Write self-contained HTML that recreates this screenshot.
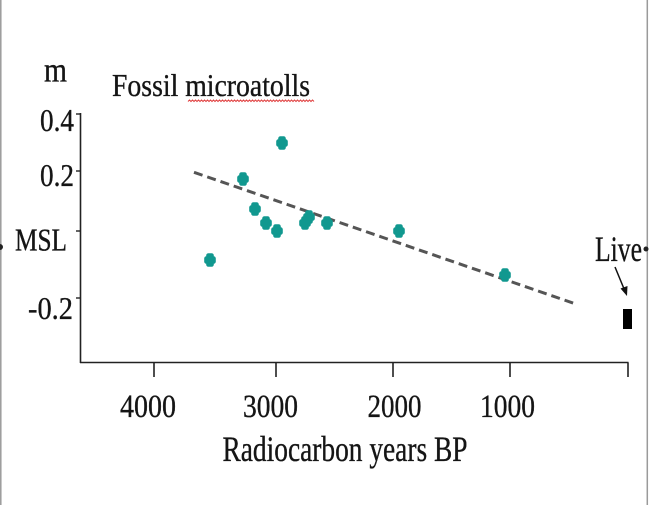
<!DOCTYPE html>
<html>
<head>
<meta charset="utf-8">
<style>
  html,body{margin:0;padding:0;background:#fff;}
  svg{display:block;}
  text{font-family:"Liberation Serif","Times New Roman",serif;fill:#151515;stroke:#151515;stroke-width:0.35;}
</style>
</head>
<body>
<svg width="650" height="505" viewBox="0 0 650 505" xmlns="http://www.w3.org/2000/svg">
  <rect x="0" y="0" width="650" height="505" fill="#fff"/>
  <!-- borders -->
  <line x1="0.8" y1="0" x2="0.8" y2="505" stroke="#9a9a9a" stroke-width="1.5"/>
  <line x1="647.3" y1="0" x2="647.3" y2="505" stroke="#9a9a9a" stroke-width="1.5"/>

  <!-- partial glyphs at edges -->
  <circle cx="0" cy="247" r="3" fill="#222"/>
  <circle cx="646" cy="249" r="2.5" fill="#222"/>

  <!-- axes -->
  <line x1="80.5" y1="113" x2="80.5" y2="363" stroke="#222" stroke-width="1.6"/>
  <line x1="80" y1="362.5" x2="628.5" y2="362.5" stroke="#222" stroke-width="1.6"/>
  <!-- y ticks -->
  <g stroke="#222" stroke-width="1.4">
    <line x1="76" y1="114" x2="80.5" y2="114"/>
    <line x1="76" y1="171" x2="80.5" y2="171"/>
    <line x1="76" y1="231" x2="80.5" y2="231"/>
    <line x1="76" y1="298" x2="80.5" y2="298"/>
  </g>
  <!-- x ticks -->
  <g stroke="#222" stroke-width="1.6">
    <line x1="154" y1="362.5" x2="154" y2="377"/>
    <line x1="276" y1="362.5" x2="276" y2="377"/>
    <line x1="393" y1="362.5" x2="393" y2="377"/>
    <line x1="510" y1="362.5" x2="510" y2="377"/>
    <line x1="628" y1="362.5" x2="628" y2="377"/>
  </g>

  <!-- y labels -->
  <text x="40" y="131" font-size="31.5" textLength="34" lengthAdjust="spacingAndGlyphs">0.4</text>
  <text x="40" y="186" font-size="31.5" textLength="34" lengthAdjust="spacingAndGlyphs">0.2</text>
  <text x="15" y="250.5" font-size="31.5" textLength="52" lengthAdjust="spacingAndGlyphs">MSL</text>
  <text x="28" y="319" font-size="31.5" textLength="45" lengthAdjust="spacingAndGlyphs">-0.2</text>
  <text x="44" y="81.5" font-size="35" textLength="23" lengthAdjust="spacingAndGlyphs">m</text>

  <!-- x labels -->
  <text x="120" y="417" font-size="33" textLength="56" lengthAdjust="spacingAndGlyphs">4000</text>
  <text x="243" y="417" font-size="33" textLength="55" lengthAdjust="spacingAndGlyphs">3000</text>
  <text x="367.5" y="417" font-size="33" textLength="54" lengthAdjust="spacingAndGlyphs">2000</text>
  <text x="480" y="417" font-size="33" textLength="55" lengthAdjust="spacingAndGlyphs">1000</text>
  <text x="222.5" y="461" font-size="35.5" textLength="245" lengthAdjust="spacingAndGlyphs">Radiocarbon years BP</text>

  <!-- title -->
  <text x="112" y="96" font-size="31.5" textLength="198" lengthAdjust="spacingAndGlyphs">Fossil microatolls</text>
  <path d="M188 101.5 l1.5 -1.5 l1.5 1.5 l1.5 -1.5 l1.5 1.5 l1.5 -1.5 l1.5 1.5 l1.5 -1.5 l1.5 1.5 l1.5 -1.5 l1.5 1.5 l1.5 -1.5 l1.5 1.5 l1.5 -1.5 l1.5 1.5 l1.5 -1.5 l1.5 1.5 l1.5 -1.5 l1.5 1.5 l1.5 -1.5 l1.5 1.5 l1.5 -1.5 l1.5 1.5 l1.5 -1.5 l1.5 1.5 l1.5 -1.5 l1.5 1.5 l1.5 -1.5 l1.5 1.5 l1.5 -1.5 l1.5 1.5 l1.5 -1.5 l1.5 1.5 l1.5 -1.5 l1.5 1.5 l1.5 -1.5 l1.5 1.5 l1.5 -1.5 l1.5 1.5 l1.5 -1.5 l1.5 1.5 l1.5 -1.5 l1.5 1.5 l1.5 -1.5 l1.5 1.5 l1.5 -1.5 l1.5 1.5 l1.5 -1.5 l1.5 1.5 l1.5 -1.5 l1.5 1.5 l1.5 -1.5 l1.5 1.5 l1.5 -1.5 l1.5 1.5 l1.5 -1.5 l1.5 1.5 l1.5 -1.5 l1.5 1.5 l1.5 -1.5 l1.5 1.5 l1.5 -1.5 l1.5 1.5 l1.5 -1.5 l1.5 1.5 l1.5 -1.5 l1.5 1.5 l1.5 -1.5 l1.5 1.5 l1.5 -1.5 l1.5 1.5 l1.5 -1.5 l1.5 1.5 l1.5 -1.5 l1.5 1.5 l1.5 -1.5 l1.5 1.5 l1.5 -1.5 l1.5 1.5 l1.5 -1.5 l1.5 1.5 l1.5 -1.5 l1.5 1.5 l1.5 -1.5 l1.5 1.5" fill="none" stroke="#e04040" stroke-width="1"/>

  <!-- trend line -->
  <line x1="194" y1="172.3" x2="576.7" y2="304.3" stroke="#555" stroke-width="3" stroke-dasharray="9 5"/>

  <!-- markers -->
  <defs>
    <g id="mk">
      <rect x="-3.8" y="-6.8" width="7.6" height="13.6" rx="2.2" fill="#11988f"/>
      <rect x="-5.8" y="-3.8" width="11.6" height="7.6" rx="2.2" fill="#11988f"/>
    </g>
  </defs>
  <use href="#mk" x="282" y="143"/>
  <use href="#mk" x="243" y="179"/>
  <use href="#mk" x="255" y="209"/>
  <use href="#mk" x="266" y="223"/>
  <use href="#mk" x="277" y="231"/>
  <use href="#mk" x="210" y="260"/>
  <use href="#mk" x="305" y="223"/>
  <use href="#mk" x="309" y="217"/>
  <use href="#mk" x="327" y="223"/>
  <use href="#mk" x="399" y="231"/>
  <use href="#mk" x="505" y="275"/>

  <!-- Live annotation -->
  <text x="595" y="261" font-size="35.5" textLength="47" lengthAdjust="spacingAndGlyphs">Live</text>
  <line x1="615" y1="267" x2="624.5" y2="290" stroke="#111" stroke-width="1.5"/>
  <path d="M627 296 L620.5 288.5 L627.5 286 Z" fill="#111"/>
  <rect x="623" y="309" width="9" height="20" fill="#000"/>
</svg>
</body>
</html>
